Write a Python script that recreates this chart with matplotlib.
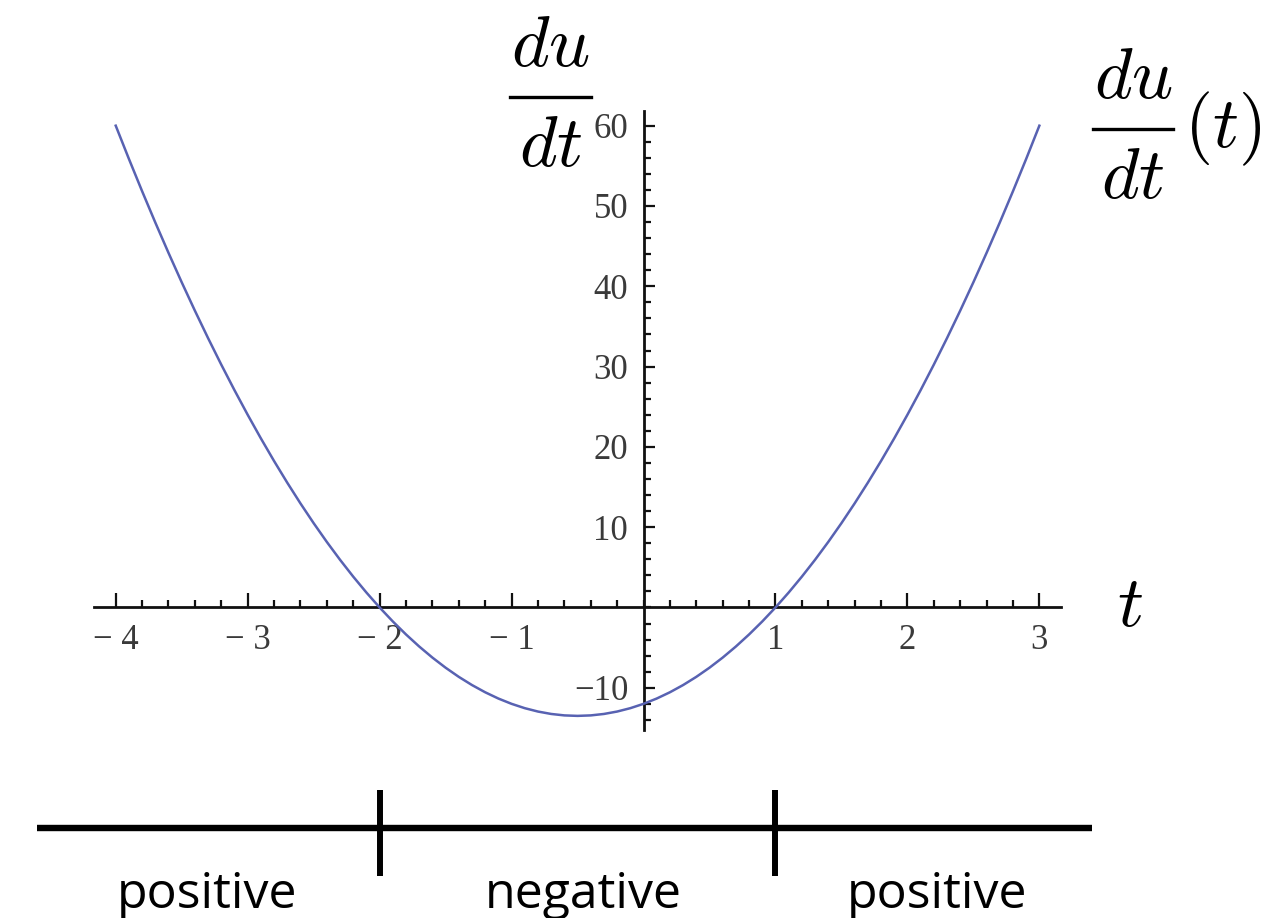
import matplotlib.pyplot as plt
import numpy as np
from matplotlib.ticker import FixedLocator

plt.rcParams['mathtext.fontset'] = 'cm'
plt.rcParams['font.family'] = ['Liberation Serif', 'DejaVu Serif']

# du/dt sampled along t
t = [-4.0, -3.9, -3.8, -3.7, -3.6, -3.5, -3.4, -3.3, -3.2, -3.1,
     -3.0, -2.9, -2.8, -2.7, -2.6, -2.5, -2.4, -2.3, -2.2, -2.1,
     -2.0, -1.9, -1.8, -1.7, -1.6, -1.5, -1.4, -1.3, -1.2, -1.1,
     -1.0, -0.9, -0.8, -0.7, -0.6, -0.5, -0.4, -0.3, -0.2, -0.1,
     0.0, 0.1, 0.2, 0.3, 0.4, 0.5, 0.6, 0.7, 0.8, 0.9,
     1.0, 1.1, 1.2, 1.3, 1.4, 1.5, 1.6, 1.7, 1.8, 1.9,
     2.0, 2.1, 2.2, 2.3, 2.4, 2.5, 2.6, 2.7, 2.8, 2.9, 3.0]
dudt = [60.0, 55.86, 51.84, 47.94, 44.16, 40.5, 36.96, 33.54, 30.24, 27.06,
        24.0, 21.06, 18.24, 15.54, 12.96, 10.5, 8.16, 5.94, 3.84, 1.86,
        0.0, -1.74, -3.36, -4.86, -6.24, -7.5, -8.64, -9.66, -10.56, -11.34,
        -12.0, -12.54, -12.96, -13.26, -13.44, -13.5, -13.44, -13.26, -12.96, -12.54,
        -12.0, -11.34, -10.56, -9.66, -8.64, -7.5, -6.24, -4.86, -3.36, -1.74,
        0.0, 1.86, 3.84, 5.94, 8.16, 10.5, 12.96, 15.54, 18.24, 21.06,
        24.0, 27.06, 30.24, 33.54, 36.96, 40.5, 44.16, 47.94, 51.84, 55.86, 60.0]

x_ticks = [-4, -3, -2, -1, 1, 2, 3]
x_labels = ['\u2212 4', '\u2212 3', '\u2212 2', '\u2212 1', '1', '2', '3']
y_ticks = [-10, 10, 20, 30, 40, 50, 60]
y_labels = ['\u221210', '10', '20', '30', '40', '50', '60']

# sign chart below the graph
roots = [-2, 1]
sign_labels = ['positive', 'negative', 'positive']
sign_label_x = [-3.305, -0.456, 2.224]

W, H = 1284, 918
fig = plt.figure(figsize=(W / 100, H / 100), dpi=100)
ax = fig.add_axes([0, 0, 1, 1])
ax.set_xlim(-4.877, 4.854)
ax.set_ylim(-38.67, 75.65)

for side in ['top', 'right']:
    ax.spines[side].set_visible(False)
ax.spines['left'].set_position(('data', 0))
ax.spines['bottom'].set_position(('data', 0))
ax.spines['left'].set_bounds(-15.2, 61.8)
ax.spines['bottom'].set_bounds(-4.165, 3.162)
for side in ['left', 'bottom']:
    ax.spines[side].set_linewidth(2.0)
    ax.spines[side].set_color('#111111')

ax.set_xticks(x_ticks)
ax.set_xticklabels(x_labels)
ax.set_yticks(y_ticks)
ax.set_yticklabels(y_labels)
ax.xaxis.set_minor_locator(FixedLocator(np.arange(-4, 3.01, 0.2)))
ax.yaxis.set_minor_locator(FixedLocator(np.arange(-14, 60.1, 2)))

ax.tick_params(axis='x', which='major', direction='in', length=10, width=1.6,
               pad=12, labelsize=25, labelcolor='#3a3a3a', color='#111111')
ax.tick_params(axis='x', which='minor', direction='in', length=5, width=1.6,
               color='#111111')
ax.tick_params(axis='y', which='major', direction='in', length=8, width=1.6,
               pad=11, labelsize=25, labelcolor='#3a3a3a', color='#111111')
ax.tick_params(axis='y', which='minor', direction='in', length=5, width=1.6,
               color='#111111')

ax.plot(t, dudt, color='#5862b2', lw=1.8, clip_on=False, zorder=3)

# sign line with marks at the zeros
ax.plot([-4.6, 3.397], [-27.45, -27.45], color='black', lw=4.6,
        solid_capstyle='butt', clip_on=False)
for r in roots:
    ax.plot([r, r], [-22.7, -33.5], color='black', lw=4.3,
            solid_capstyle='butt', clip_on=False)
for lab, xl in zip(sign_labels, sign_label_x):
    ax.text(xl, -37.4, lab, ha='center', va='baseline', fontsize=36,
            family='Open Sans', color='black')


def frac(xc, ybar, half=40):
    # du over dt, built by hand for display-style spacing
    fig.text(xc / W, 1 - (ybar - 31) / H, r'$du$', ha='center',
             va='baseline', fontsize=52)
    fig.text(xc / W, 1 - (ybar + 69) / H, r'$dt$', ha='center',
             va='baseline', fontsize=52)
    fig.add_artist(plt.Line2D([(xc - half) / W, (xc + half) / W],
                              [1 - ybar / H, 1 - ybar / H],
                              transform=fig.transFigure, color='black',
                              lw=2.4))


frac(550.5, 97)
frac(1133, 129)
fig.text(1184 / W, 1 - 129 / H, r'$(t)$', ha='left', va='center',
         fontsize=52)
fig.text(1130 / W, 1 - 626 / H, r'$t$', ha='center', va='baseline',
         fontsize=52)

fig.savefig('out.png', dpi=100)
